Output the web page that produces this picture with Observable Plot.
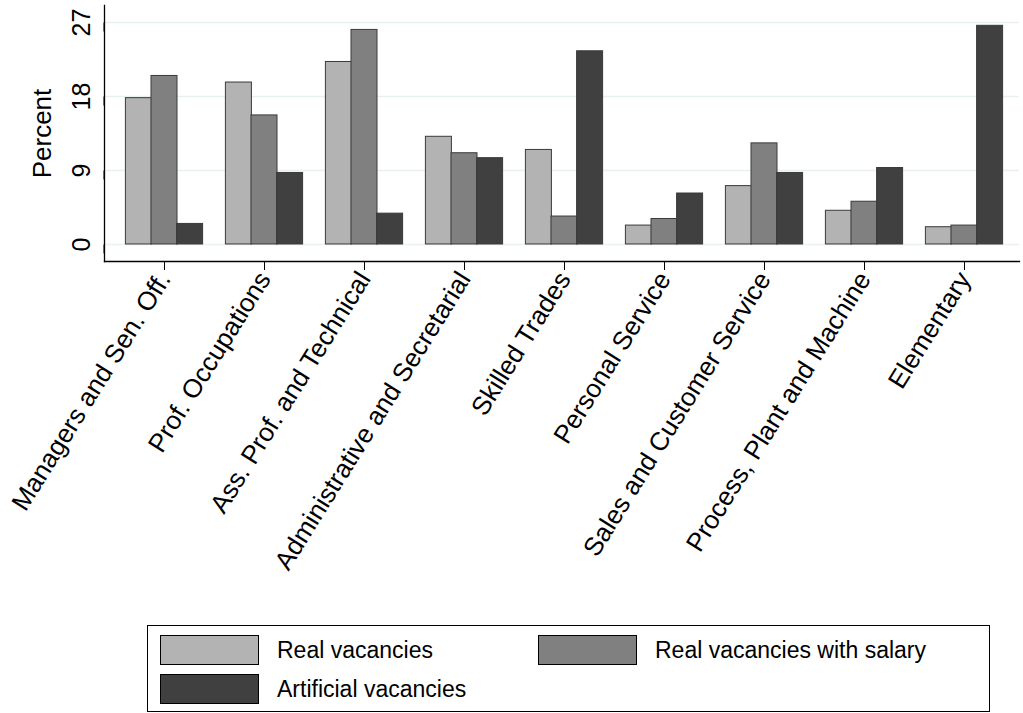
<!DOCTYPE html>
<html><head><meta charset="utf-8">
<script src="https://cdn.jsdelivr.net/npm/d3@7"></script>
<script src="https://cdn.jsdelivr.net/npm/@observablehq/plot@0.6"></script>
<style>
body{margin:0;background:#fff;font-family:"Liberation Sans",Arial,sans-serif;}
#chart svg text{font-family:"Liberation Sans",Arial,sans-serif;}
#chart svg g[aria-label="x-axis tick label"] text{font-size:26px !important;}
#chart svg g[aria-label="y-axis tick label"] text{font-size:25px !important;}
#chart svg g[aria-label="y-axis label"] text{font-size:26px !important;}
#legend{position:absolute;left:147px;top:625px;width:843px;height:87px;border:1px solid #000;box-sizing:border-box;font-size:23px;}
.it{position:absolute;display:flex;align-items:center;}
.sw{width:99px;height:30px;border:1px solid #000;box-sizing:border-box;margin-right:18px;}
</style></head><body>
<div id="chart"></div>
<div id="legend"></div>
<script>
const categories = ["Managers and Sen. Off.","Prof. Occupations","Ass. Prof. and Technical","Administrative and Secretarial","Skilled Trades","Personal Service","Sales and Customer Service","Process, Plant and Machine","Elementary"];
const seriesNames = ["Real vacancies","Real vacancies with salary","Artificial vacancies"];
const realVac = [17.8,19.7,22.2,13.1,11.5,2.3,7.1,4.1,2.1];
const realSal = [20.5,15.7,26.1,11.1,3.4,3.1,12.3,5.2,2.3];
const artVac  = [2.5,8.7,3.75,10.5,23.5,6.2,8.7,9.3,26.6];
const yTicks = [0,9,18,27];
const colors = ["#b3b3b3","#808080","#404040"];
const seriesVals = [realVac, realSal, artVac];
const offsets = [-25.6, 0, 25.6];

const marks = [
  Plot.ruleY(yTicks, {stroke:"#e8f0f1", strokeWidth:1.5}),
];
seriesVals.forEach((vals,i)=>{
  marks.push(Plot.barY(categories.map((c,j)=>({c, v:vals[j]})), {x:"c", y:"v", fill:colors[i], stroke:"#3a3a3a", strokeWidth:1, dx:offsets[i]}));
});
marks.push(Plot.axisY({ticks:yTicks, tickSize:9, rotate:-90, textAnchor:"middle", tickPadding:14, label:"Percent", labelAnchor:"center", labelArrow:"none", labelOffset:72}));
marks.push(Plot.axisX({tickSize:9, tickRotate:-58, textAnchor:"end", tickPadding:4, label:null}));
marks.push(Plot.frame({anchor:"left", strokeWidth:1.3}));
marks.push(Plot.frame({anchor:"bottom", strokeWidth:1.3}));

const chart = Plot.plot({
  width:1023, height:610,
  marginLeft:104, marginRight:4, marginTop:5, marginBottom:349,
  x:{domain:categories, paddingInner:0.745, paddingOuter:0.373, range:[109,1018]},
  y:{domain:[-2.07,29.07]},
  marks
});
document.getElementById("chart").appendChild(chart);

const lg = document.getElementById("legend");
const pos = [[12,9],[390,9],[12,48]];
seriesNames.forEach((n,i)=>{
  const d=document.createElement("div"); d.className="it";
  d.style.left=pos[i][0]+"px"; d.style.top=pos[i][1]+"px";
  d.innerHTML=`<div class="sw" style="background:${colors[i]}"></div><span>${n}</span>`;
  lg.appendChild(d);
});
</script></body></html>
